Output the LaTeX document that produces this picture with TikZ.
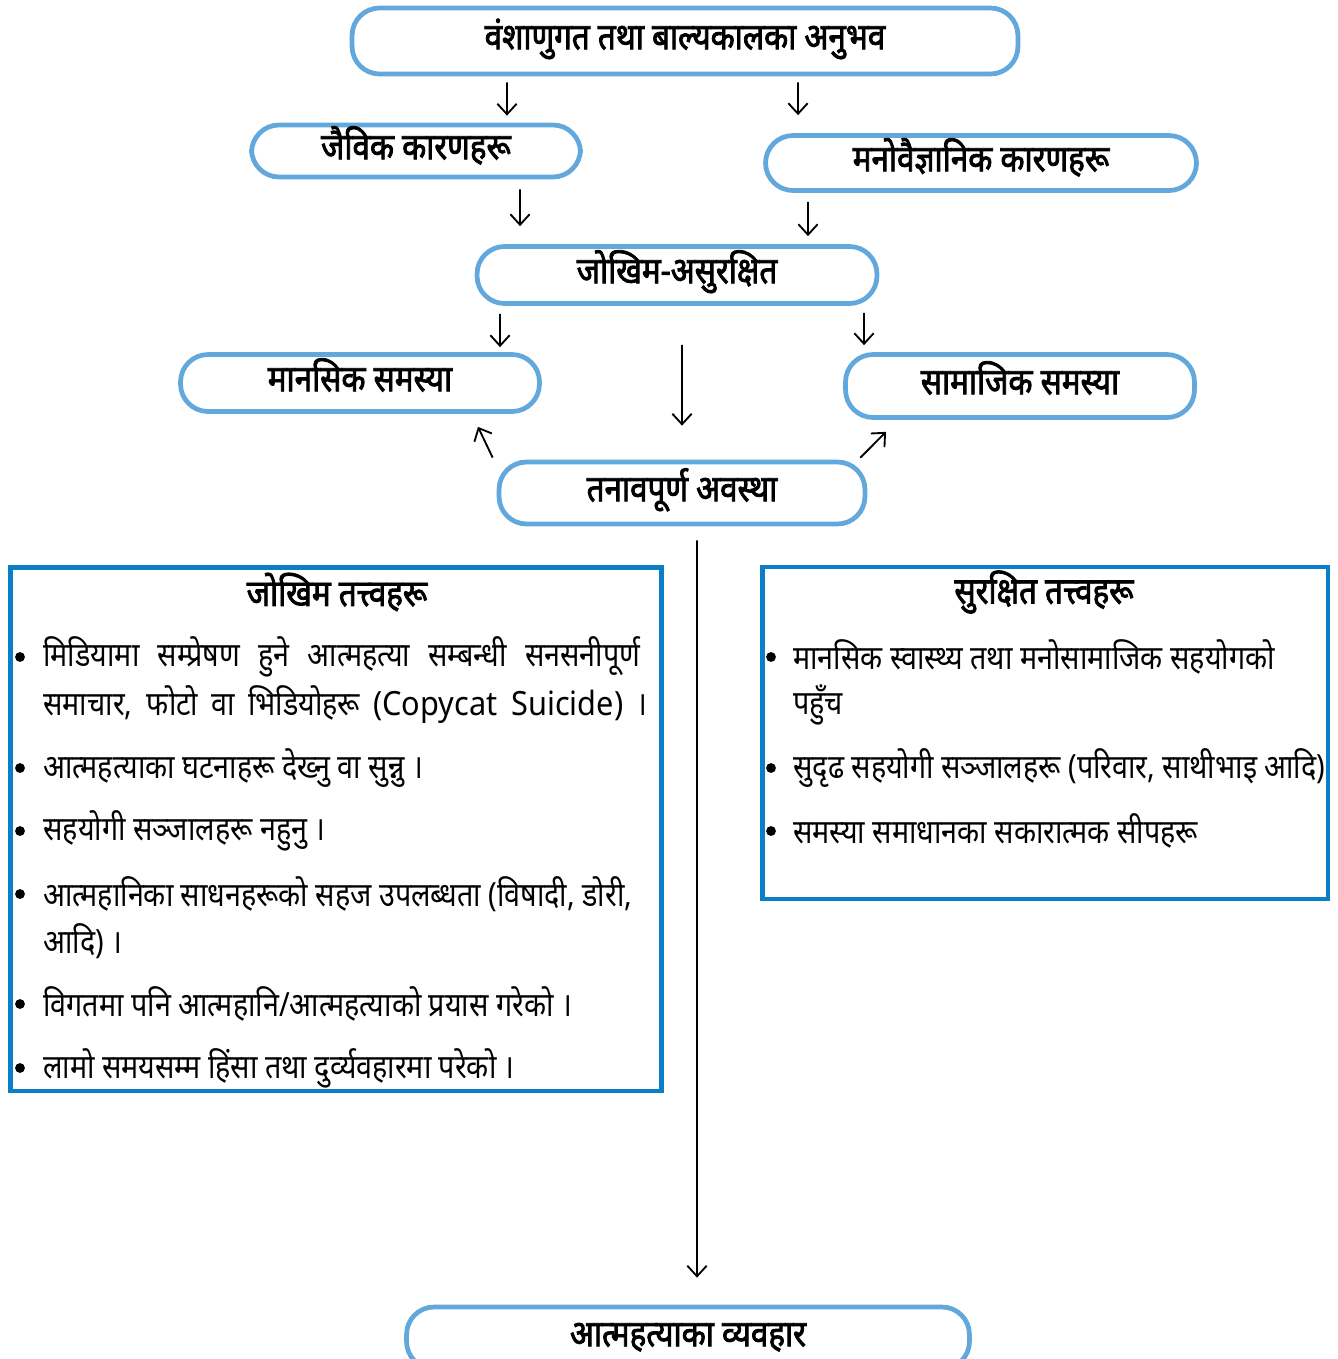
\documentclass[tikz,border=0pt]{standalone}
\usepackage{fontspec}
\setmainfont[Script=Devanagari,FakeStretch=0.86]{Noto Sans}
\newfontfamily\titlefont[Script=Devanagari,FakeStretch=0.85,FakeBold=2.2]{Noto Sans}
\newfontfamily\latinpart[FakeStretch=0.92]{Noto Sans}
\usepackage{tikz}
\usetikzlibrary{positioning,arrows.meta}
\definecolor{capsuleblue}{RGB}{98,168,220}
\definecolor{boxblue}{RGB}{10,127,199}
\tikzset{stage node/.style={draw=capsuleblue,line width=2.7pt,rounded corners=0.55cm,inner sep=0pt,text height=18pt,text depth=8.6pt,font=\titlefont\fontsize{21}{24}\selectfont},
            flow/.style={-{Straight Barb[length=6pt,width=11pt]},line width=1.05pt},
            factor box/.style={draw=boxblue,line width=2.8pt,inner sep=0pt},
            factor title/.style={inner sep=0pt,font=\titlefont\fontsize{21}{24}\selectfont},
            entry/.style={anchor=west,inner sep=0pt,font=\fontsize{19}{22}\selectfont},
            dot/.style={circle,fill=black,inner sep=0pt,minimum size=5.6pt}
            }

\begin{document}
\begin{tikzpicture}[x=0.02cm,y=-0.02cm]
    \useasboundingbox (0,0) rectangle (1338,1359);

    \node[stage node,minimum width=13.32cm,minimum height=1.32cm] (heredity) at (685,41) {वंशाणुगत तथा बाल्यकालका अनुभव};
    \node[stage node,minimum width=6.58cm,minimum height=1.04cm] (bio) at (416,151) {जैविक कारणहरू};
    \node[stage node,minimum width=8.62cm,minimum height=1.1cm] (psy) at (981,163) {मनोवैज्ञानिक कारणहरू};
    \node[stage node,minimum width=8cm,minimum height=1.14cm] (risk) at (677,275) {जोखिम-असुरक्षित};
    \node[stage node,minimum width=7.18cm,minimum height=1.14cm] (mental) at (360,383) {मानसिक समस्या};
    \node[stage node,minimum width=6.98cm,minimum height=1.26cm] (social) at (1020,386) {सामाजिक समस्या};
    \node[stage node,minimum width=7.32cm,minimum height=1.24cm] (stress) at (682,493) {तनावपूर्ण अवस्था};
    \node[stage node,minimum width=11.26cm,minimum height=1.24cm] (suicide) at (688,1338) {आत्महत्याका व्यवहार};

    \draw[flow,shorten <=0.12cm,shorten >=0.14cm] ([xshift=-3.56cm]heredity.south) -- ([xshift=1.82cm]bio.north);
    \draw[flow,shorten <=0.12cm,shorten >=0.36cm] ([xshift=2.26cm]heredity.south) -- ([xshift=-3.66cm]psy.north);
    \draw[flow,shorten <=0.2cm,shorten >=0.36cm] ([xshift=2.08cm]bio.south) -- ([xshift=-3.14cm]risk.north);
    \draw[flow,shorten <=0.18cm,shorten >=0.16cm] ([xshift=-3.46cm]psy.south) -- ([xshift=2.62cm]risk.north);
    \draw[flow,shorten <=0.16cm,shorten >=0.1cm] ([xshift=-3.54cm]risk.south) -- ([xshift=2.8cm]mental.north);
    \draw[flow,shorten <=0.14cm,shorten >=0.14cm] ([xshift=3.74cm]risk.south) -- ([xshift=-3.12cm]social.north);
    \draw[flow,shorten <=0.78cm,shorten >=0.68cm] ([xshift=0.1cm]risk.south) -- (stress.north);
    \draw[flow] ([xshift=-0.08cm,yshift=0.04cm]stress.north west) -- ([xshift=2.36cm,yshift=-0.26cm]mental.south);
    \draw[flow] ([xshift=-0.14cm,yshift=0.04cm]stress.north east) -- ([xshift=-2.68cm,yshift=-0.24cm]social.south);
    \draw[flow,shorten <=0.28cm,shorten >=0.54cm] ([xshift=0.3cm]stress.south) -- ([xshift=0.18cm]suicide.north);

    \node[factor box,minimum width=13.04cm,minimum height=10.48cm] (riskbox) at (336,829) {};
    \node[factor box,minimum width=11.32cm,minimum height=6.64cm] (safebox) at (1045,733) {};
    \node[factor title] (risktitle) at (337,592) {जोखिम तत्त्वहरू};
    \node[factor title] (safetitle) at (1044,592) {सुरक्षित तत्त्वहरू};

    \node[entry] (r1) at (43,657) {\makebox[11.94cm][s]{मिडियामा सम्प्रेषण हुने आत्महत्या सम्बन्धी सनसनीपूर्ण}};
    \node[entry] (r2) at (43,705) {\makebox[12.08cm][s]{समाचार, फोटो वा भिडियोहरू {\latinpart(Copycat Suicide)} ।}};
    \node[entry] (r3) at (43,768) {आत्महत्याका घटनाहरू देख्नु वा सुन्नु ।};
    \node[entry] (r4) at (43,831) {सहयोगी सञ्जालहरू नहुनु ।};
    \node[entry] (r5) at (43,894) {आत्महानिका साधनहरूको सहज उपलब्धता (विषादी, डोरी,};
    \node[entry] (r6) at (43,941) {आदि) ।};
    \node[entry] (r7) at (43,1004) {विगतमा पनि आत्महानि/आत्महत्याको प्रयास गरेको ।};
    \node[entry] (r8) at (43,1068) {लामो समयसम्म हिंसा तथा दुर्व्यवहारमा परेको ।};
    \foreach \row in {r1,r3,r4,r5,r7,r8}
        \node[dot] at ([xshift=-0.46cm]\row.west) {};

    \node[entry] (s1) at (793,657) {मानसिक स्वास्थ्य तथा मनोसामाजिक सहयोगको};
    \node[entry] (s2) at (793,705) {पहुँच};
    \node[entry] (s3) at (793,768) {सुदृढ सहयोगी सञ्जालहरू (परिवार, साथीभाइ आदि)};
    \node[entry] (s4) at (793,831) {समस्या समाधानका सकारात्मक सीपहरू};
    \foreach \row in {s1,s3,s4}
        \node[dot] at ([xshift=-0.44cm]\row.west) {};
\end{tikzpicture}
\end{document}
